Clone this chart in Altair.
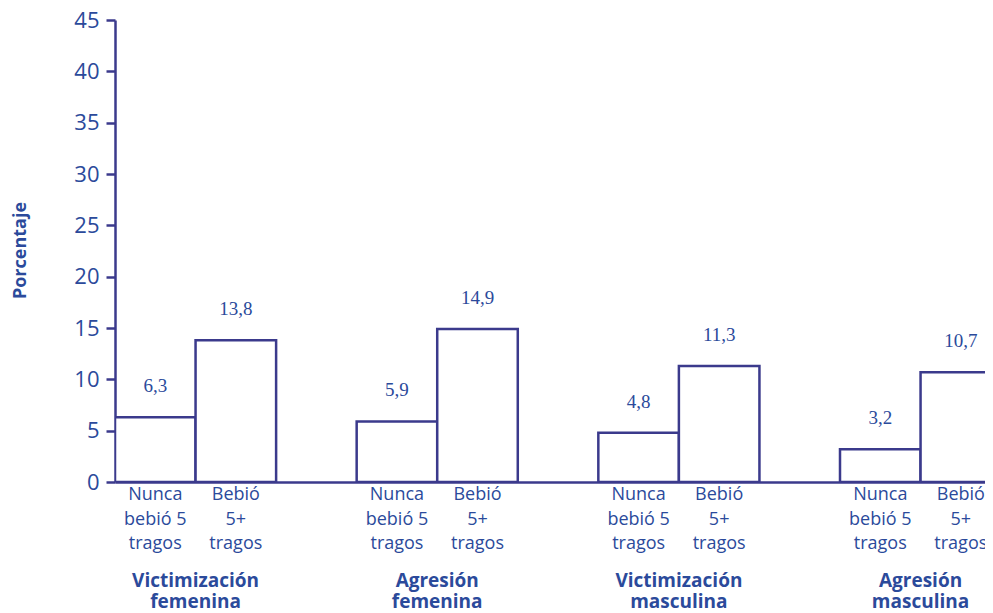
import altair as alt
import pandas as pd

groups = ["Victimización\nfemenina", "Agresión\nfemenina", "Victimización\nmasculina", "Agresión\nmasculina"]
bar_labels = ["Nunca\nbebió 5\ntragos", "Bebió\n5+\ntragos"]
nunca = [6.3, 5.9, 4.8, 3.2]
bebio = [13.8, 14.9, 11.3, 10.7]
value_text = [["6,3", "13,8"], ["5,9", "14,9"], ["4,8", "11,3"], ["3,2", "10,7"]]

rows = []
for i, g in enumerate(groups):
    for j, v in enumerate([nunca[i], bebio[i]]):
        x0 = 3 * i + j
        rows.append({"x0": x0, "x1": x0 + 1, "xc": x0 + 0.5, "v": v,
                     "vt": value_text[i][j], "cat": bar_labels[j]})
df = pd.DataFrame(rows)
gdf = pd.DataFrame({"g": groups, "gx": [3 * i + 1 for i in range(len(groups))]})

LINE = "#3b3a8c"
TXT = "#2b4a9b"
W, H = 870, 462

xs = alt.Scale(domain=[0, 10.8], nice=False, zero=False)
ys = alt.Scale(domain=[0, 45], nice=False)

bars = alt.Chart(df).mark_bar(fill="white", stroke=LINE, strokeWidth=2.5, clip=True).encode(
    x=alt.X("x0:Q", scale=xs, axis=alt.Axis(title=None, labels=False, ticks=False, grid=False,
                                             domainColor=LINE, domainWidth=2.5)),
    x2="x1:Q",
    y=alt.Y("v:Q", scale=ys, axis=alt.Axis(
        title="Porcentaje", values=list(range(0, 46, 5)), grid=False,
        domainColor=LINE, domainWidth=2.5, tickColor=LINE, tickWidth=2.5, tickSize=9,
        labelColor=TXT, labelFont="Open Sans", labelFontSize=22, labelPadding=7,
        titleColor=TXT, titleFont="Open Sans", titleFontSize=18, titleFontWeight="bold",
        titleAngle=-90, titleX=-95, titleY=230, titleAlign="center", titleBaseline="middle")),
    y2=alt.datum(0),
)

vals = alt.Chart(df).mark_text(font="Liberation Serif", fontSize=19, color=TXT,
                               baseline="middle", dy=-31, clip=False).encode(
    x=alt.X("xc:Q", scale=xs), y=alt.Y("v:Q", scale=ys), text="vt:N")

cats = alt.Chart(df).transform_filter("datum.xc < 10.8").mark_text(
    font="Open Sans", fontSize=18, color=TXT, baseline="top", lineBreak="\n",
    lineHeight=24.5, align="center").encode(
    x=alt.X("xc:Q", scale=xs), y=alt.value(H + 4), text="cat:N")

glabs = alt.Chart(gdf).mark_text(
    font="Open Sans", fontSize=19, fontWeight="bold", color=TXT, baseline="top",
    lineBreak="\n", lineHeight=21, align="center").encode(
    x=alt.X("gx:Q", scale=xs), y=alt.value(H + 90), text="g:N")

chart = alt.layer(bars, vals, cats, glabs).properties(
    width=W, height=H,
    autosize=alt.AutoSizeParams(type="none"),
    padding={"left": 107, "top": 12, "right": 0, "bottom": 131},
    background="white",
).configure_view(stroke=None)

chart.save("out.html", embed_options={"renderer": "svg", "actions": False})
